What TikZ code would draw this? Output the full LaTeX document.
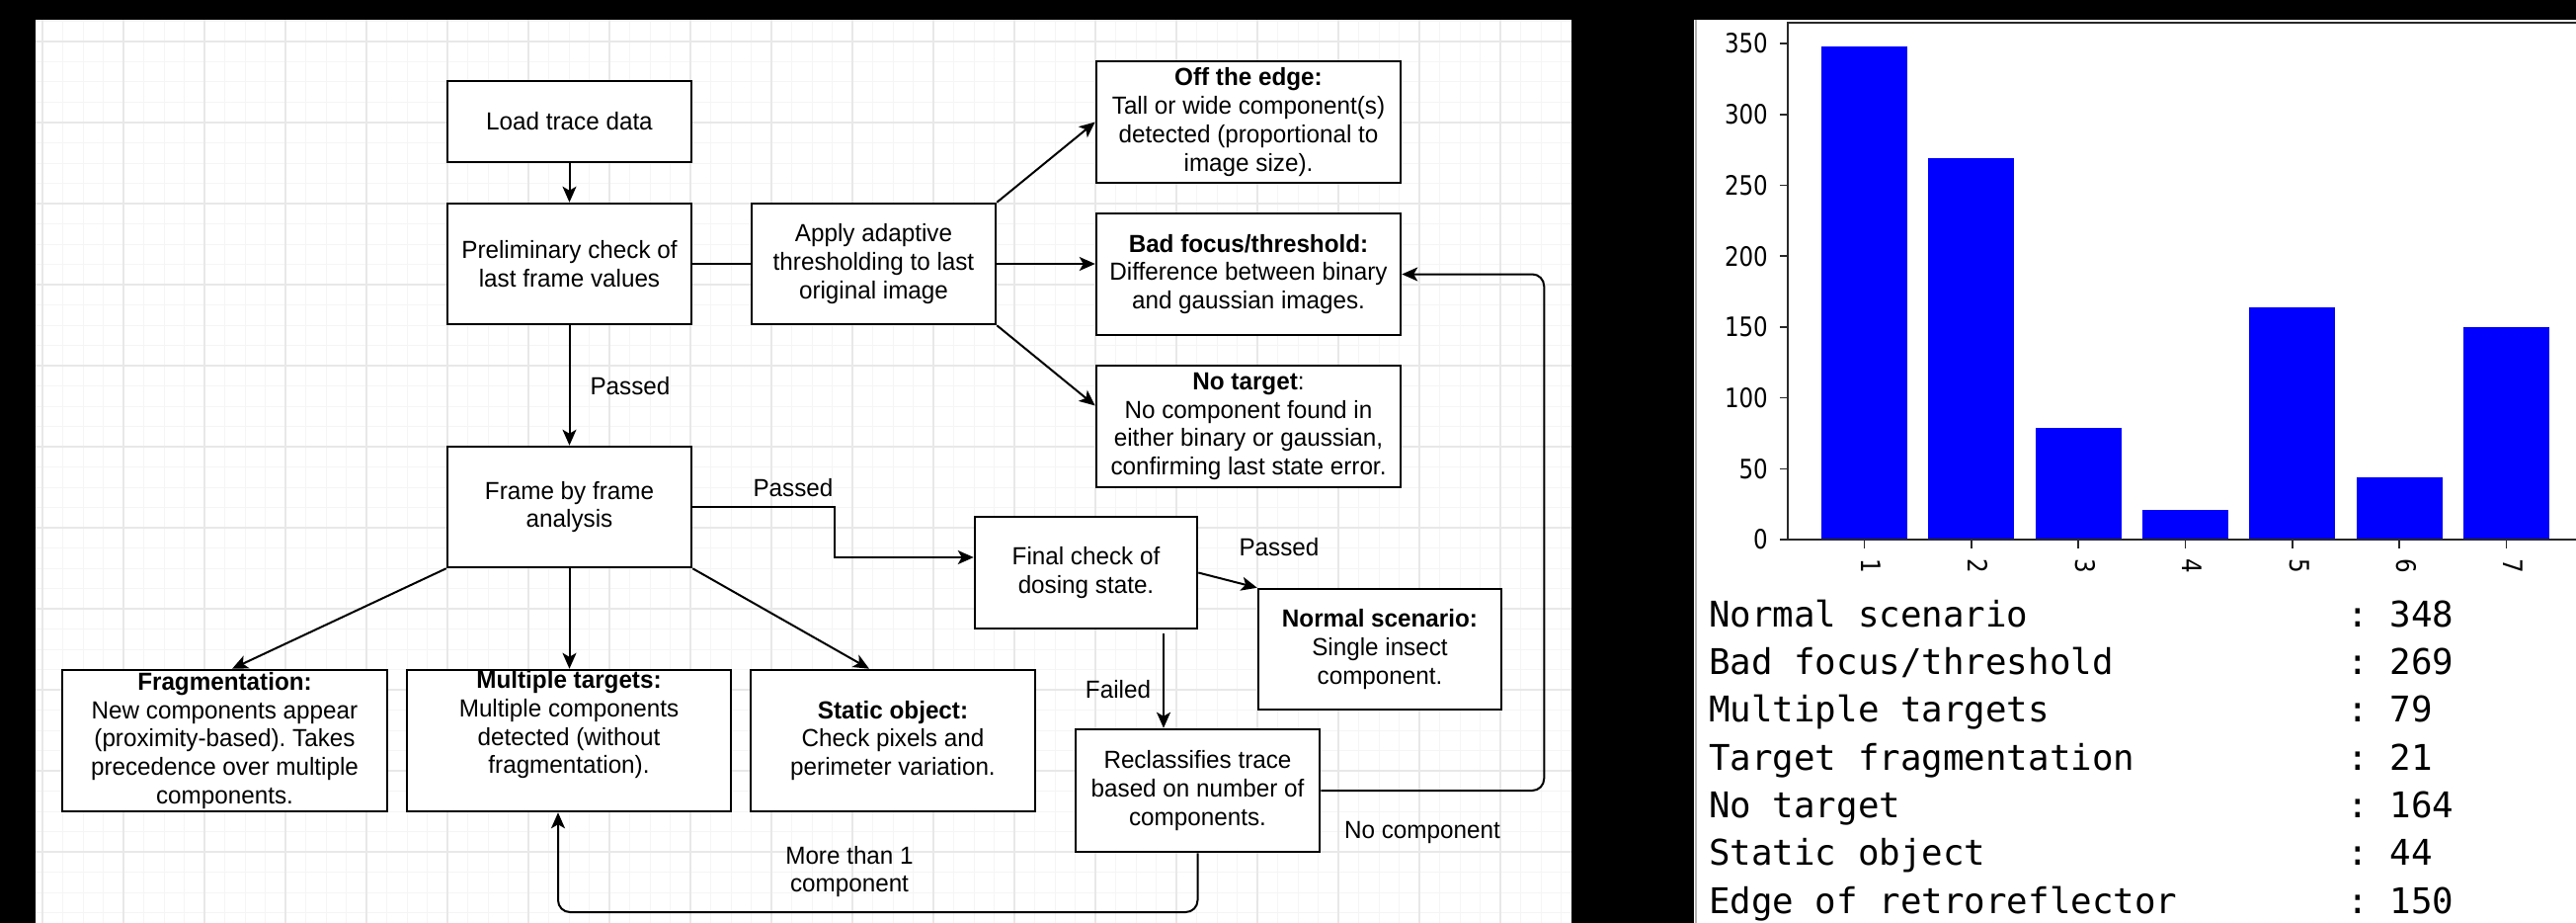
\documentclass[tikz,border=0pt]{standalone}
\usepackage{fontspec}
\usetikzlibrary{arrows.meta}
\newfontfamily\boxfont[FakeStretch=0.97]{Liberation Sans}
\newfontfamily\tickfont[FakeStretch=0.85]{DejaVu Sans}
\newfontfamily\monofont{DejaVu Sans Mono}
\definecolor{gridmajor}{RGB}{232,232,232}
\definecolor{gridminor}{RGB}{245,245,245}
\definecolor{barblue}{RGB}{0,0,255}
\definecolor{axisgray}{RGB}{40,40,40}
\frenchspacing
\tikzset{
 box/.style={draw=black, line width=2.5pt, fill=white, align=center, inner sep=0pt, font=\boxfont\fontsize{25pt}{28.7pt}\selectfont},
 conn/.style={draw=black, line width=2pt, -{Stealth[length=16pt,width=14pt,inset=4pt]}},
 plain/.style={draw=black, line width=2pt},
 lbl/.style={font=\boxfont\fontsize{25pt}{28.7pt}\selectfont, inner sep=0pt, align=center},
 ticklbl/.style={font=\tickfont\fontsize{27pt}{30pt}\selectfont, inner sep=0pt, text=black},
 listtxt/.style={font=\monofont\fontsize{35.8pt}{40pt}\selectfont, inner sep=0pt, anchor=base west},
}
\begin{document}
\frenchspacing
\begin{tikzpicture}[x=1pt,y=-1pt]
\useasboundingbox (0,0) rectangle (2608,934);
\fill[black] (0,0) rectangle (2608,934);
% ---------- left panel ----------
\fill[white] (36,20) rectangle (1591,934);
\begin{scope}
\clip (36,20) rectangle (1591,934);
\foreach \i in {-1,...,76} \draw[gridminor, line width=1pt] ({43+20.5*\i},20) -- ({43+20.5*\i},934);
\foreach \i in {-1,...,44} \draw[gridminor, line width=1pt] (36,{42+20.5*\i}) -- (1591,{42+20.5*\i});
\foreach \i in {0,...,19} \draw[gridmajor, line width=1.5pt] ({43+82*\i},20) -- ({43+82*\i},934);
\foreach \i in {0,...,11} \draw[gridmajor, line width=1.5pt] (36,{42+82*\i}) -- (1591,{42+82*\i});
\end{scope}

\node[box, minimum width=247pt, minimum height=82pt] (load) at (576.5,123) {Load trace data};
\node[box, minimum width=247pt, minimum height=122pt] (prelim) at (576.5,267) {Preliminary check of\\last frame values};
\node[box, minimum width=247pt, minimum height=122pt] (apply) at (884.5,267) {Apply adaptive\\thresholding to last\\original image};
\node[box, minimum width=308pt, minimum height=123pt] (offedge) at (1264,123.5) {\textbf{Off the edge:}\\Tall or wide component(s)\\detected (proportional to\\image size).};
\node[box, minimum width=308pt, minimum height=123pt] (badfocus) at (1264,277.5) {\textbf{Bad focus/threshold:}\\Difference between binary\\and gaussian images.};
\node[box, minimum width=308pt, minimum height=123pt] (notarget) at (1264,431.5) {\textbf{No target}:\\No component found in\\either binary or gaussian,\\confirming last state error.};
\node[box, minimum width=247pt, minimum height=122pt] (frame) at (576.5,513) {Frame by frame\\analysis};
\node[box, minimum width=225pt, minimum height=113pt] (final) at (1099.5,579.5) {Final check of\\dosing state.};
\node[box, minimum width=246pt, minimum height=122pt] (normal) at (1397,657) {\textbf{Normal scenario:}\\Single insect\\component.};
\node[box, minimum width=247pt, minimum height=124pt] (reclass) at (1212.5,800) {Reclassifies trace\\based on number of\\components.};
\node[box, minimum width=329pt, minimum height=143pt] (frag) at (227.5,749.5) {\textbf{Fragmentation:}\\New components appear\\(proximity-based). Takes\\precedence over multiple\\components.};
\node[box, minimum width=328pt, minimum height=143pt] (multi) at (576,749.5) {\textbf{Multiple targets:}\\Multiple components\\detected (without\\fragmentation).\\\strut};
\node[box, minimum width=288pt, minimum height=143pt] (static) at (904,749.5) {\textbf{Static object:}\\Check pixels and\\perimeter variation.};

\draw[conn] (load) -- (prelim);
\draw[plain] (prelim) -- (apply);
\draw[conn] (prelim) -- (frame);
\draw[conn] (apply.north east) -- (offedge.west);
\draw[conn] (apply.east) -- (apply.east -| badfocus.west);
\draw[conn] (apply.south east) -- ([yshift=21pt]notarget.west);
\draw[conn] (frame.south west) -- ([xshift=7.5pt]frag.north);
\draw[conn] (frame.south) -- (frame.south |- multi.north);
\draw[conn] (frame.south east) -- ([xshift=-24pt]static.north);
\draw[conn] (frame.east) -- ++(144,0) |- ([yshift=15.5pt]final.west);
\draw[conn] (final.east) -- (normal.north west);
\coordinate (fs) at (1178,641);
\draw[conn] (fs) -- (fs |- reclass.north);
\draw[conn, rounded corners=12pt] (reclass.east) -| ([xshift=144pt]badfocus.east) -- (badfocus.east);
\coordinate (mb) at (565,923);
\draw[conn, rounded corners=12pt] (reclass.south) |- (mb) -- (mb |- multi.south);

\node[lbl] (passedA) at (638,391) {Passed};
\node[lbl] (passedB) at (803,494) {Passed};
\node[lbl] (passedC) at (1295,554) {Passed};
\node[lbl] (failed) at (1132,698) {Failed};
\node[lbl] (nocomp) at (1440,842) {No component};
\node[lbl] (morethan) at (860,882) {More than 1\\component};

% ---------- right panel ----------
\fill[white] (1715,20) rectangle (2608,934);
\draw[gray!60, line width=2pt] (1717,20) -- (1717,934);
\foreach \v [count=\i] in {348,269,79,21,164,44,150}
  \fill[barblue] ({1887.5+(\i-1)*108.33-43.5},546) rectangle ({1887.5+(\i-1)*108.33+43.5},{546-\v*1.434});
\foreach \t in {0,50,...,350} {
  \draw[axisgray, line width=1.5pt] (1802,{546-\t*1.434}) -- (1810,{546-\t*1.434});
  \node[ticklbl, anchor=east] (yt\t) at (1790,{546-\t*1.434}) {\t};
}
\foreach \i in {1,...,7} {
  \draw[axisgray, line width=1.5pt] ({1887.5+(\i-1)*108.33},546) -- ({1887.5+(\i-1)*108.33},555);
  \node[ticklbl, rotate=-90] (xt\i) at ({1894.5+(\i-1)*108.33},573) {\i};
}
\draw[axisgray, line width=2pt] (2610,23) -- (1810,23) -- (1810,546) -- (2610,546);

\node[listtxt] (n1) at (1730,634) {Normal scenario};
\node[listtxt] (v1) at (2376.5,634) {: 348};
\node[listtxt] (n2) at (1730,682.3) {Bad focus/threshold};
\node[listtxt] (v2) at (2376.5,682.3) {: 269};
\node[listtxt] (n3) at (1730,730.7) {Multiple targets};
\node[listtxt] (v3) at (2376.5,730.7) {: 79};
\node[listtxt] (n4) at (1730,779) {Target fragmentation};
\node[listtxt] (v4) at (2376.5,779) {: 21};
\node[listtxt] (n5) at (1730,827.3) {No target};
\node[listtxt] (v5) at (2376.5,827.3) {: 164};
\node[listtxt] (n6) at (1730,875.7) {Static object};
\node[listtxt] (v6) at (2376.5,875.7) {: 44};
\node[listtxt] (n7) at (1730,924) {Edge of retroreflector};
\node[listtxt] (v7) at (2376.5,924) {: 150};
\end{tikzpicture}
\end{document}
